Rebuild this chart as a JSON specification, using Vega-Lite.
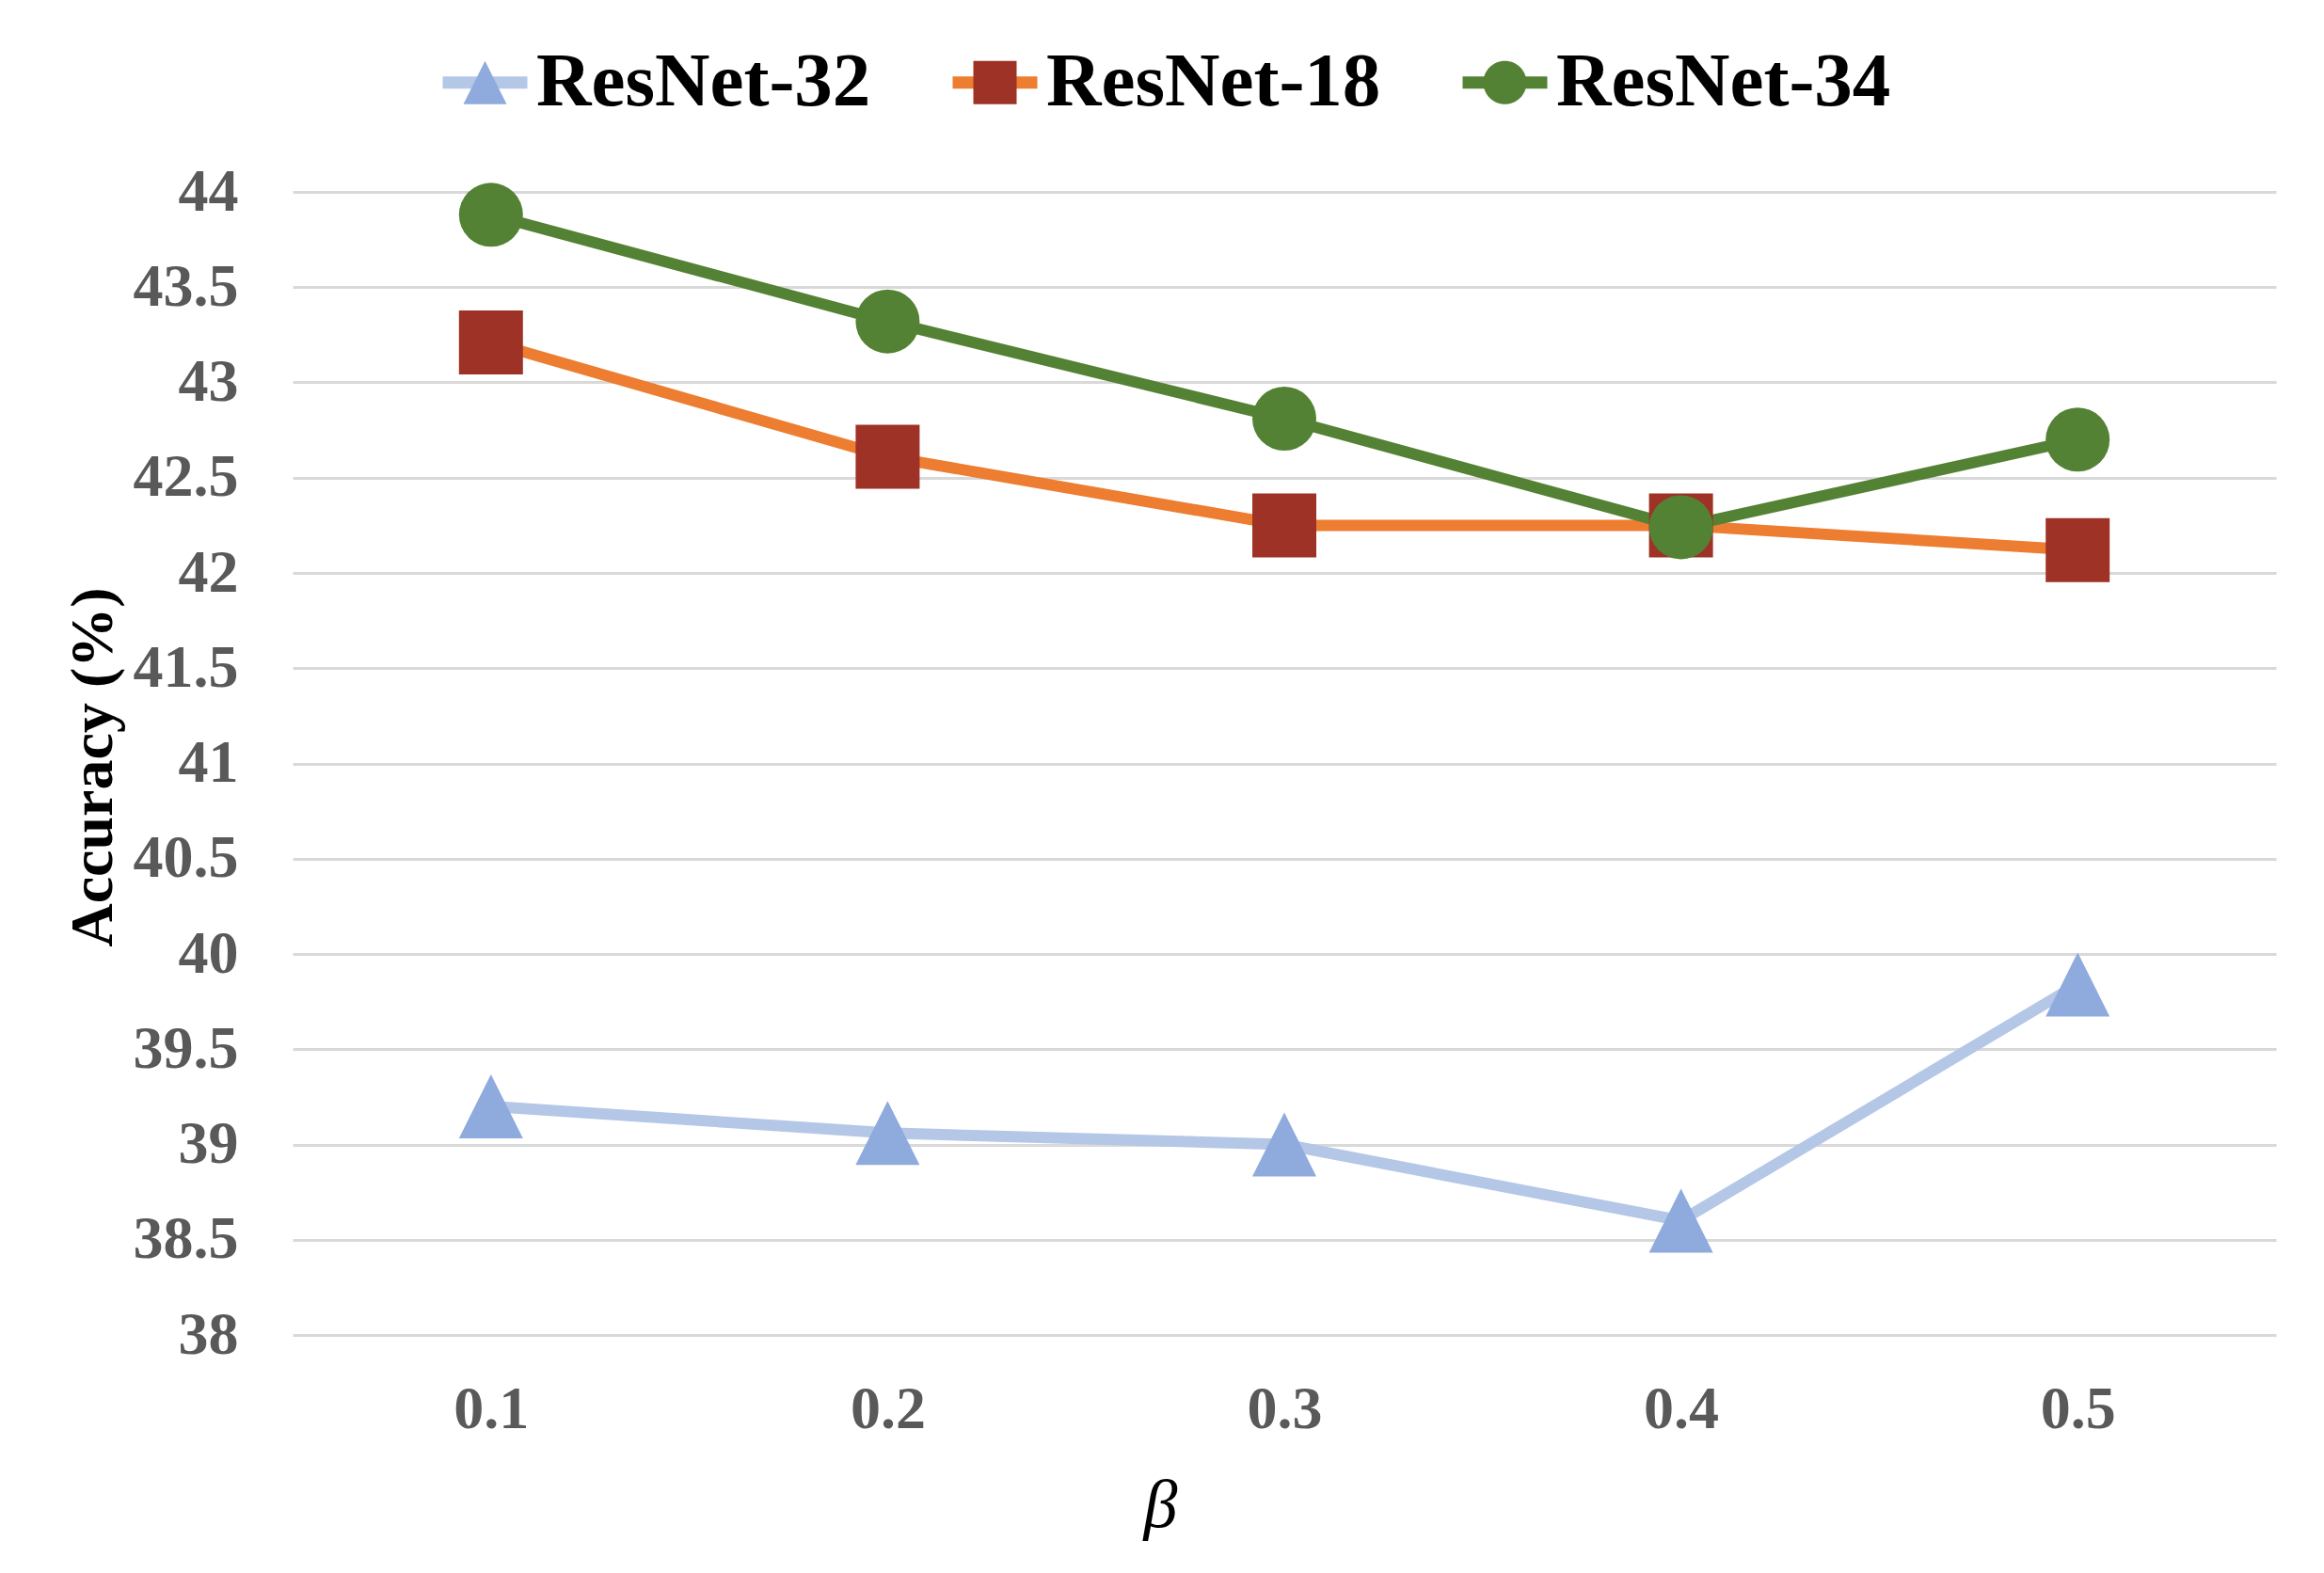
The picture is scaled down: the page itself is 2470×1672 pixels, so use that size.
{
  "$schema": "https://vega.github.io/schema/vega-lite/v6.json",
  "description": "Accuracy vs beta for three ResNet backbones.",
  "width": 2108,
  "height": 1215,
  "autosize": {"type": "none"},
  "padding": {"left": 311, "top": 204, "right": 51, "bottom": 253},
  "background": "white",
  "config": {
    "view": {"stroke": null},
    "font": "Liberation Serif"
  },
  "data": {
    "values": [
      {"model": "ResNet-32", "beta": 0.1, "acc": 39.20},
      {"model": "ResNet-32", "beta": 0.2, "acc": 39.06},
      {"model": "ResNet-32", "beta": 0.3, "acc": 39.00},
      {"model": "ResNet-32", "beta": 0.4, "acc": 38.60},
      {"model": "ResNet-32", "beta": 0.5, "acc": 39.84},
      {"model": "ResNet-18", "beta": 0.1, "acc": 43.21},
      {"model": "ResNet-18", "beta": 0.2, "acc": 42.61},
      {"model": "ResNet-18", "beta": 0.3, "acc": 42.25},
      {"model": "ResNet-18", "beta": 0.4, "acc": 42.25},
      {"model": "ResNet-18", "beta": 0.5, "acc": 42.12},
      {"model": "ResNet-34", "beta": 0.1, "acc": 43.88},
      {"model": "ResNet-34", "beta": 0.2, "acc": 43.32},
      {"model": "ResNet-34", "beta": 0.3, "acc": 42.81},
      {"model": "ResNet-34", "beta": 0.4, "acc": 42.24},
      {"model": "ResNet-34", "beta": 0.5, "acc": 42.70}
    ]
  },
  "encoding": {
    "x": {
      "field": "beta",
      "type": "ordinal",
      "scale": {"type": "point", "padding": 0.5},
      "axis": {
        "title": "β",
        "labelAngle": 0,
        "domain": false,
        "ticks": false,
        "tickSize": 0,
        "grid": false,
        "labelFont": "Liberation Serif",
        "labelFontSize": 64,
        "labelFontWeight": "bold",
        "labelColor": "#595959",
        "labelPadding": 47,
        "titleFont": "Liberation Serif",
        "titleFontSize": 72,
        "titleFontStyle": "italic",
        "titleFontWeight": "normal",
        "titleColor": "black",
        "titleX": 922,
        "titleY": 203,
        "titleAlign": "center",
        "titleBaseline": "alphabetic"
      }
    },
    "y": {
      "field": "acc",
      "type": "quantitative",
      "scale": {"domain": [38, 44], "zero": false, "nice": false},
      "axis": {
        "title": "Accuracy (%)",
        "values": [38, 38.5, 39, 39.5, 40, 40.5, 41, 41.5, 42, 42.5, 43, 43.5, 44],
        "format": "~g",
        "domain": false,
        "ticks": false,
        "tickSize": 0,
        "grid": true,
        "gridColor": "#D9D9D9",
        "gridWidth": 3,
        "labelFont": "Liberation Serif",
        "labelFontSize": 64,
        "labelFontWeight": "bold",
        "labelColor": "#595959",
        "labelPadding": 58,
        "titleFont": "Liberation Serif",
        "titleFontSize": 64,
        "titleFontWeight": "bold",
        "titleColor": "black",
        "titleAngle": -90,
        "titleX": -193,
        "titleY": 611,
        "titleAlign": "center",
        "titleBaseline": "alphabetic"
      }
    }
  },
  "layer": [
    {
      "mark": {"type": "line", "strokeWidth": 12, "strokeCap": "round", "strokeJoin": "round", "opacity": 1},
      "encoding": {
        "stroke": {
          "field": "model",
          "type": "nominal",
          "scale": {
            "domain": ["ResNet-32", "ResNet-18", "ResNet-34"],
            "range": ["#B4C7E7", "#ED7D31", "#548235"]
          },
          "legend": {
            "title": null,
            "orient": "none",
            "legendX": 153,
            "legendY": -168,
            "direction": "horizontal",
            "padding": 0,
            "symbolType": "stroke",
            "symbolSize": 8100,
            "symbolStrokeWidth": 13,
            "labelFont": "Liberation Serif",
            "labelFontSize": 81,
            "labelFontWeight": "bold",
            "labelColor": "black",
            "labelOffset": 3,
            "labelLimit": 0,
            "columnPadding": 60,
            "encode": {"symbols": {"update": {"strokeCap": {"value": "round"}, "shape": {"value": "stroke"}}}}
          }
        }
      }
    },
    {
      "mark": {"type": "point", "filled": true, "size": 4624, "opacity": 1, "strokeWidth": 0},
      "encoding": {
        "fill": {
          "field": "model",
          "type": "nominal",
          "sort": null,
          "scale": {"range": ["#8FAADC", "#9E3226", "#548235"]},
          "legend": {
            "title": null,
            "orient": "none",
            "legendX": 153,
            "legendY": -168,
            "direction": "horizontal",
            "padding": 0,
            "symbolType": "circle",
            "symbolSize": 8100,
            "symbolStrokeWidth": 13,
            "symbolStrokeColor": "transparent",
            "symbolOpacity": 1,
            "labelFont": "Liberation Serif",
            "labelFontSize": 81,
            "labelFontWeight": "bold",
            "labelOpacity": 0,
            "labelOffset": 3,
            "labelLimit": 0,
            "columnPadding": 60,
            "encode": {
              "symbols": {
                "update": {
                  "stroke": {"value": "transparent"},
                  "shape": {"signal": "datum.value === 'ResNet-32' ? 'M-1,0L1,0M0,-0.511L-0.511,0.511L0.511,0.511Z' : datum.value === 'ResNet-18' ? 'M-1,0L1,0M-0.511,-0.511L0.511,-0.511L0.511,0.511L-0.511,0.511Z' : 'M-1,0L1,0M0.511,0A0.511,0.511 0 1,1 -0.511,0A0.511,0.511 0 1,1 0.511,0Z'"}
                }
              }
            }
          }
        },
        "shape": {
          "field": "model",
          "type": "nominal",
          "scale": {
            "domain": ["ResNet-18", "ResNet-32", "ResNet-34"],
            "range": ["square", "M0,-1L-1,1L1,1Z", "circle"]
          },
          "legend": null
        }
      }
    }
  ]
}
